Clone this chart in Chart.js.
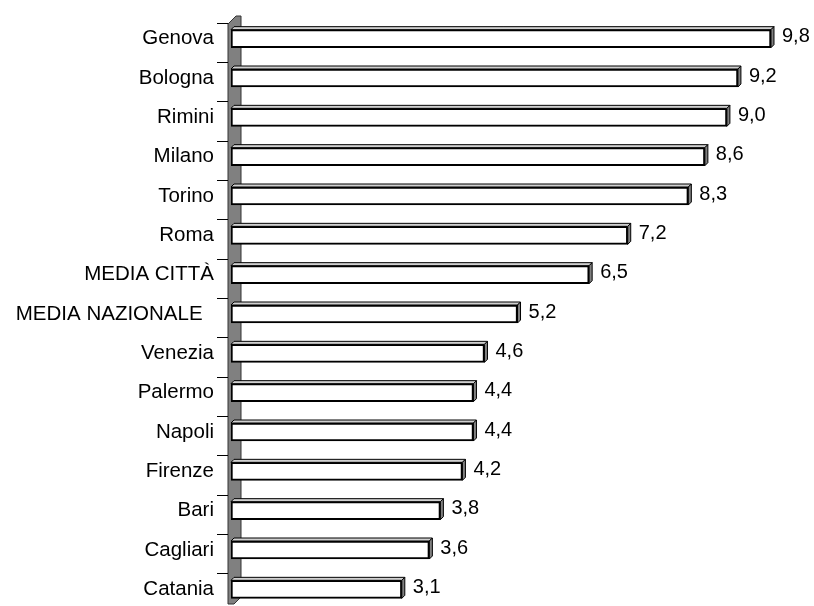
<!DOCTYPE html>
<html>
<head>
<meta charset="utf-8">
<script src="https://cdn.jsdelivr.net/npm/chart.js@4"></script>
<style>
  html, body { margin: 0; padding: 0; background: #fff; overflow: hidden; }
  #wrap { width: 814px; height: 612px; position: relative; }
</style>
</head>
<body>
<div id="wrap"><canvas id="barChart"></canvas></div>
<script>
const cities = ['Genova', 'Bologna', 'Rimini', 'Milano', 'Torino', 'Roma', 'MEDIA CITTÀ', 'MEDIA NAZIONALE  ',
  'Venezia', 'Palermo', 'Napoli', 'Firenze', 'Bari', 'Cagliari', 'Catania'];
const values = [9.8, 9.2, 9.0, 8.6, 8.3, 7.2, 6.5, 5.2, 4.6, 4.4, 4.4, 4.2, 3.8, 3.6, 3.1];

const FAMILY = '"Liberation Sans", Arial, sans-serif';
const DEPTH = 3;

// grey wall + tick marks behind the bars, 3D faces and value labels on top
const wallPlugin = {
  id: 'wall',
  beforeDatasetsDraw: (chart) => {
    const { ctx, chartArea: a, scales: { y } } = chart;
    const l = a.left - 3, r = a.left + 10;
    ctx.save();
    ctx.fillStyle = '#808080';
    ctx.strokeStyle = '#333';
    ctx.lineWidth = 1;
    ctx.beginPath();
    ctx.moveTo(l, a.top + 5);
    ctx.lineTo(l + 8, a.top - 3);
    ctx.lineTo(r, a.top - 3);
    ctx.lineTo(r, a.bottom - 12);
    ctx.lineTo(r - 7, a.bottom - 5);
    ctx.lineTo(l, a.bottom - 5);
    ctx.closePath();
    ctx.fill();
    ctx.stroke();
    ctx.strokeStyle = '#000';
    cities.forEach((c, i) => {
      const ty = Math.round(y.getPixelForValue(i) - 16) + 0.5;
      ctx.beginPath();
      ctx.moveTo(l - 11, ty);
      ctx.lineTo(l, ty);
      ctx.stroke();
    });
    ctx.restore();
  },
  afterDatasetsDraw: (chart) => {
    const { ctx } = chart;
    const meta = chart.getDatasetMeta(0);
    ctx.save();
    ctx.strokeStyle = '#000';
    ctx.lineWidth = 1;
    meta.data.forEach((bar, i) => {
      const h = bar.height;
      const left = bar.base, right = bar.x;
      const top = bar.y - h / 2, bottom = bar.y + h / 2;
      ctx.fillStyle = '#d0d0d0';
      ctx.beginPath();
      ctx.moveTo(left, top);
      ctx.lineTo(left + DEPTH, top - DEPTH);
      ctx.lineTo(right + DEPTH, top - DEPTH);
      ctx.lineTo(right, top);
      ctx.closePath();
      ctx.fill();
      ctx.stroke();
      ctx.fillStyle = '#808080';
      ctx.beginPath();
      ctx.moveTo(right, top);
      ctx.lineTo(right + DEPTH, top - DEPTH);
      ctx.lineTo(right + DEPTH, bottom - DEPTH);
      ctx.lineTo(right, bottom);
      ctx.closePath();
      ctx.fill();
      ctx.stroke();
      ctx.fillStyle = '#000';
      ctx.font = '20px ' + FAMILY;
      ctx.textAlign = 'left';
      ctx.textBaseline = 'middle';
      ctx.fillText(values[i].toFixed(1).replace('.', ','), right + DEPTH + 8, bar.y - 2);
    });
    ctx.restore();
  }
};

new Chart(document.getElementById('barChart'), {
  type: 'bar',
  data: {
    labels: cities,
    datasets: [{
      data: values,
      backgroundColor: '#fff',
      borderColor: '#000',
      borderWidth: 2,
      borderSkipped: false,
      barThickness: 18
    }]
  },
  options: {
    indexAxis: 'y',
    responsive: true,
    maintainAspectRatio: false,
    animation: false,
    layout: { padding: { top: 19, right: 32, bottom: 3, left: 0 } },
    plugins: { legend: { display: false }, tooltip: { enabled: false } },
    scales: {
      x: { display: false, min: 0, max: 10 },
      y: {
        afterFit: (scale) => {
          scale.width = 231;
          scale.paddingTop = 0;
          scale.paddingBottom = 0;
        },
        grid: { display: false, drawTicks: true, tickLength: 17 },
        border: { display: false },
        ticks: { color: '#000', font: { family: FAMILY, size: 20.5 }, padding: 0 }
      }
    }
  },
  plugins: [wallPlugin]
});
</script>
</body>
</html>
